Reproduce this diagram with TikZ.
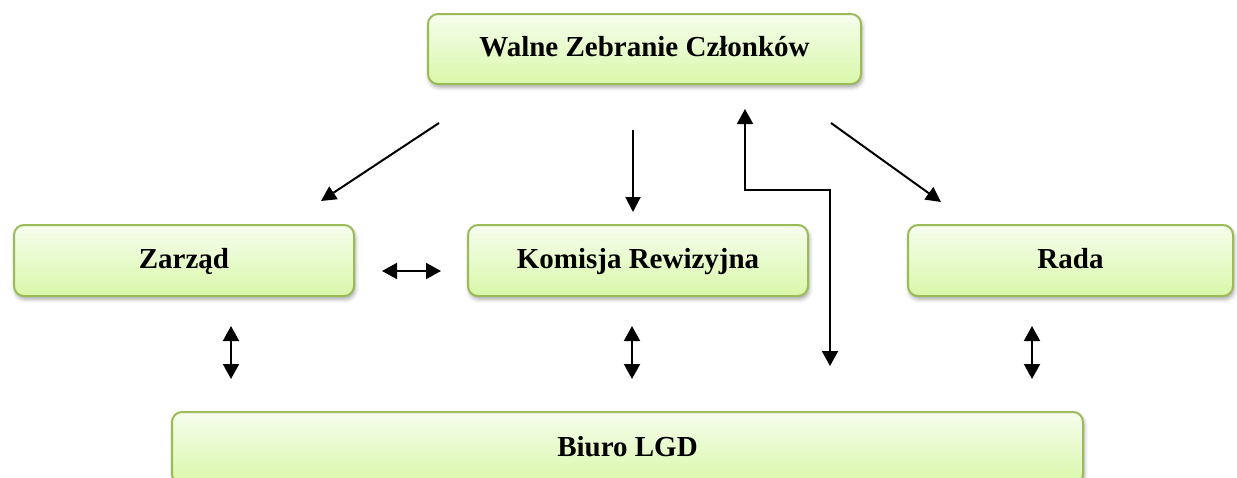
\documentclass[tikz,border=0pt]{standalone}
\usepackage{fontspec}
\setmainfont{Liberation Serif}
\usetikzlibrary{arrows.meta,shadows.blur}
\definecolor{boxborder}{HTML}{9BBB59}
\definecolor{boxtop}{HTML}{F6FDEE}
\definecolor{boxbot}{HTML}{D9F8A9}
\tikzset{
  box/.style={draw=boxborder, line width=1pt, rounded corners=5pt,
    top color=boxtop, bottom color=boxbot,
    blur shadow={shadow xshift=0.6pt, shadow yshift=-1.6pt, shadow blur radius=2pt, shadow opacity=35},
    font=\fontsize{14.5}{17}\selectfont\bfseries, inner sep=0pt,
    text height=10pt, text depth=2.5pt},
  conn/.style={line width=1pt, -{Triangle[length=7.5pt,width=7.5pt]}},
  dconn/.style={line width=1pt, {Triangle[length=7.5pt,width=8pt]}-{Triangle[length=7.5pt,width=8pt]}}
}
\begin{document}
\begin{tikzpicture}[x=0.5pt,y=-0.5pt]
\useasboundingbox (0,0) rectangle (1237,477);
\node[box, minimum width=216.5pt, minimum height=35pt] (wzc) at (644.5,49) {Walne Zebranie Członków};
\node[box, minimum width=170pt, minimum height=35.5pt] (zarzad) at (184,260.5) {Zarząd};
\node[box, minimum width=170pt, minimum height=35.5pt] (komisja) at (638,260.5) {Komisja Rewizyjna};
\node[box, minimum width=162.5pt, minimum height=35.5pt] (rada) at (1070.5,260.5) {Rada};
\node[box, minimum width=455.5pt, minimum height=36pt, text depth=1.5pt] (biuro) at (627.5,448) {Biuro LGD};

\coordinate (a1s) at (439,123); \coordinate (a1e) at (321,201);
\coordinate (a2s) at (633,130); \coordinate (a2e) at (633,212);
\coordinate (a3s) at (830,366); \coordinate (a3m1) at (830,190); \coordinate (a3m2) at (745,190); \coordinate (a3e) at (745,109);
\coordinate (a4s) at (831,123); \coordinate (a4e) at (941,202);
\coordinate (h1s) at (382,271); \coordinate (h1e) at (441,271);
\coordinate (v1s) at (231,326); \coordinate (v1e) at (231,379);
\coordinate (v2s) at (632,326); \coordinate (v2e) at (632,379);
\coordinate (v3s) at (1032,326); \coordinate (v3e) at (1032,379);

\draw[conn] (a1s) -- (a1e);
\draw[conn] (a2s) -- (a2e);
\draw[dconn] (a3s) -- (a3m1) -- (a3m2) -- (a3e);
\draw[conn] (a4s) -- (a4e);
\draw[dconn] (h1s) -- (h1e);
\draw[dconn] (v1s) -- (v1e);
\draw[dconn] (v2s) -- (v2e);
\draw[dconn] (v3s) -- (v3e);
\end{tikzpicture}
\end{document}
